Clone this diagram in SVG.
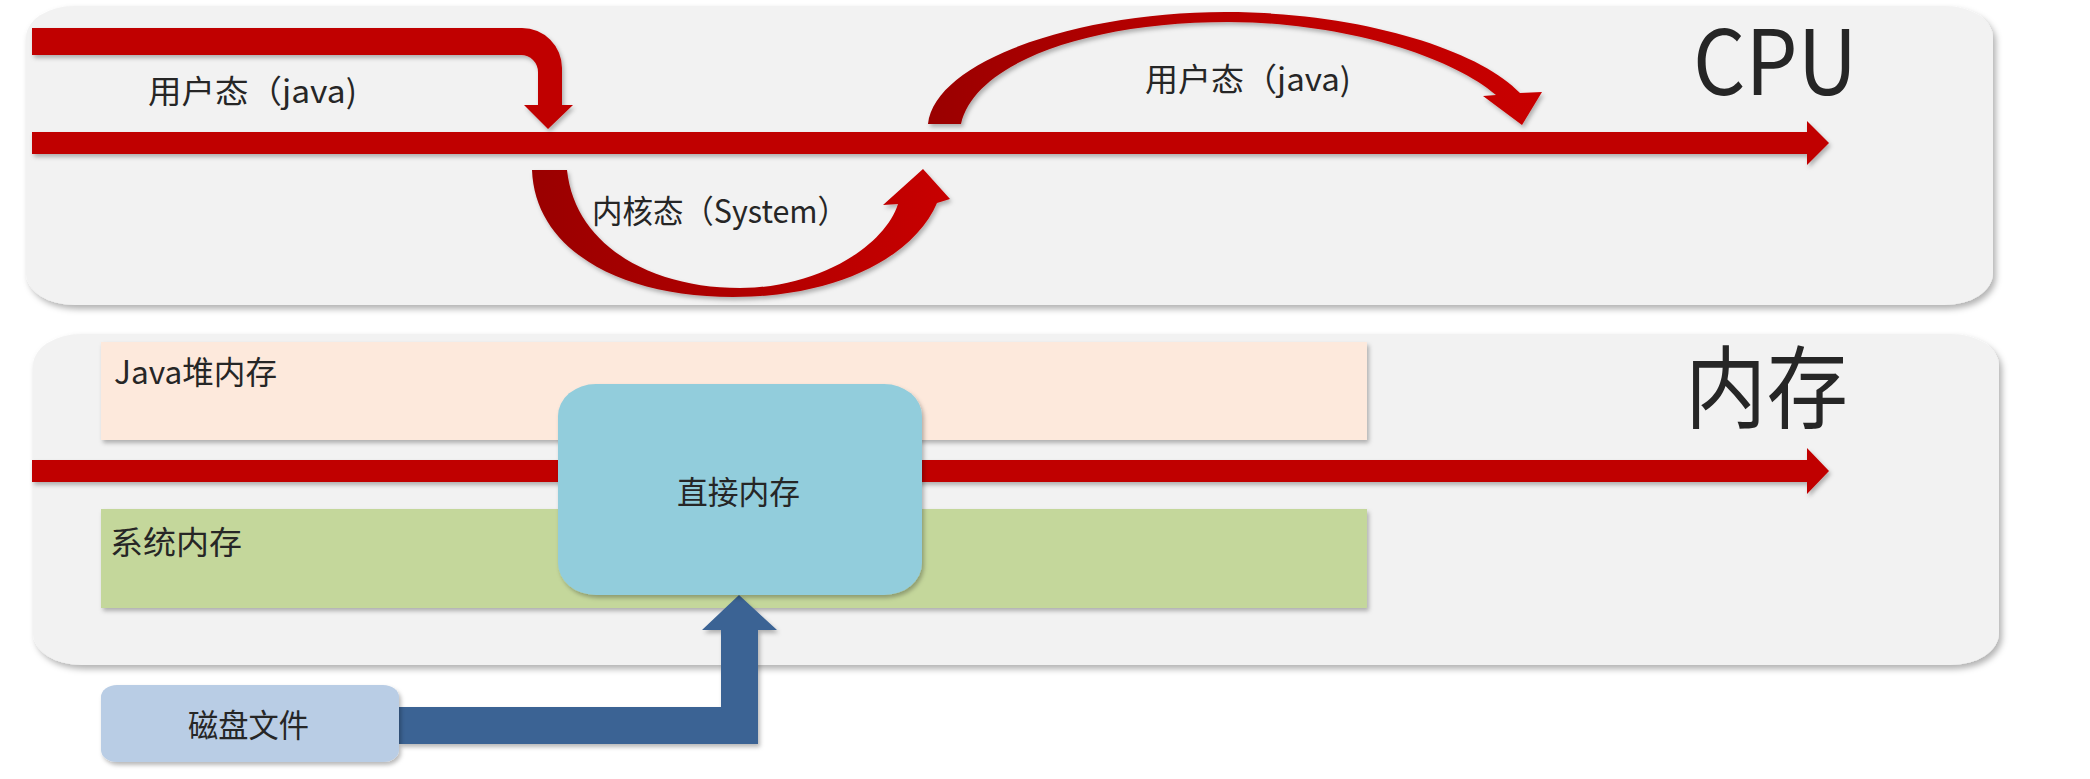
<svg xmlns="http://www.w3.org/2000/svg" width="2090" height="779" viewBox="0 0 2090 779">
<style>
.lbl{font-family:"Noto Sans CJK SC","Noto Sans",sans-serif;fill:#262626;font-size:32px}
.big{font-family:"Noto Sans CJK SC","Noto Sans",sans-serif;fill:#262626;font-size:90px}
.red{fill:#c00000}
</style>
<defs>
<filter id="sh" x="-5%" y="-10%" width="110%" height="125%">
<feDropShadow dx="3" dy="4" stdDeviation="3" flood-color="#000" flood-opacity="0.3"/>
</filter>
<filter id="shs" x="-5%" y="-20%" width="110%" height="150%">
<feDropShadow dx="2" dy="3" stdDeviation="2" flood-color="#000" flood-opacity="0.28"/>
</filter>
<linearGradient id="gk" x1="0" y1="0" x2="1" y2="0">
<stop offset="0" stop-color="#9a0000"/>
<stop offset="0.5" stop-color="#b00000"/>
<stop offset="1" stop-color="#c80000"/>
</linearGradient>
<linearGradient id="gu" x1="0" y1="0" x2="1" y2="0">
<stop offset="0" stop-color="#9a0000"/>
<stop offset="0.4" stop-color="#b80000"/>
<stop offset="1" stop-color="#c80000"/>
</linearGradient>
</defs>
<rect width="2090" height="779" fill="#ffffff"/>
<g id="cpu-panel">
<rect x="26" y="6" width="1967" height="299" rx="48" ry="32" fill="#f2f2f2" filter="url(#sh)"/>
<text class="big" x="1693" y="95" textLength="164" lengthAdjust="spacingAndGlyphs">CPU</text>
</g>
<g id="mem-panel">
<rect x="33" y="334" width="1966" height="331" rx="48" ry="32" fill="#f2f2f2" filter="url(#sh)"/>
<text class="big" x="1685" y="421" textLength="163" lengthAdjust="spacingAndGlyphs">内存</text>
</g>
<g id="heap">
<rect x="101" y="342" width="1266" height="98" fill="#fde9dc" filter="url(#shs)"/>
<text class="lbl" x="114" y="384" textLength="163" lengthAdjust="spacingAndGlyphs">Java堆内存</text>
</g>
<g id="sysmem">
<rect x="101" y="509" width="1266" height="99" fill="#c4d79b" filter="url(#shs)"/>
<text class="lbl" x="110" y="554" textLength="132" lengthAdjust="spacingAndGlyphs">系统内存</text>
</g>
<g id="connectors">
<path class="red" d="M32,132 H1807 V121 L1829,143 L1807,165 V154 H32 Z" filter="url(#shs)"/>
<path class="red" d="M32,28 H522 A40,40 0 0 1 562,68 V105 H573 L548,129 L524,105 H538 V72 A17,17 0 0 0 521,55 H32 Z" filter="url(#shs)"/>
<path fill="url(#gk)" d="M532,170 C535,250 620,297 733,297 C840,297 915,255 937,203 L950,199 L923,169 L883,205 L898,204 C885,245 820,288 740,288 C650,288 575,245 567,170 Z" filter="url(#shs)"/>
<path fill="url(#gu)" d="M928,124 C935,60 1080,12 1225,12 C1360,12 1480,50 1520,93 L1542,92 L1522,125 L1483,96 L1496,95 C1450,55 1340,22 1228,22 C1090,22 975,62 961,124 Z" filter="url(#shs)"/>
<path class="red" d="M32,460 H1807 V448 L1829,471 L1807,494 V482 H32 Z" filter="url(#shs)"/>
<path fill="#3a6394" d="M399,707 H721 V630 H702 L739,595 L777,630 H758 V744 H399 Z" filter="url(#shs)"/>
</g>
<g id="cpu-labels">
<text class="lbl" x="148" y="103" textLength="209" lengthAdjust="spacingAndGlyphs">用户态（java)</text>
<text class="lbl" x="592" y="223" textLength="256" lengthAdjust="spacingAndGlyphs">内核态（System）</text>
<text class="lbl" x="1145" y="91" textLength="206" lengthAdjust="spacingAndGlyphs">用户态（java)</text>
</g>
<g id="direct">
<rect x="558" y="384" width="364" height="211" rx="38" ry="32" fill="#92cddc" filter="url(#shs)"/>
<text class="lbl" x="677" y="504" textLength="123" lengthAdjust="spacingAndGlyphs">直接内存</text>
</g>
<g id="disk">
<rect x="101" y="685" width="298" height="77" rx="16" ry="12" fill="#b9cde5" filter="url(#shs)"/>
<text class="lbl" x="188" y="737" textLength="121" lengthAdjust="spacingAndGlyphs">磁盘文件</text>
</g>
</svg>
